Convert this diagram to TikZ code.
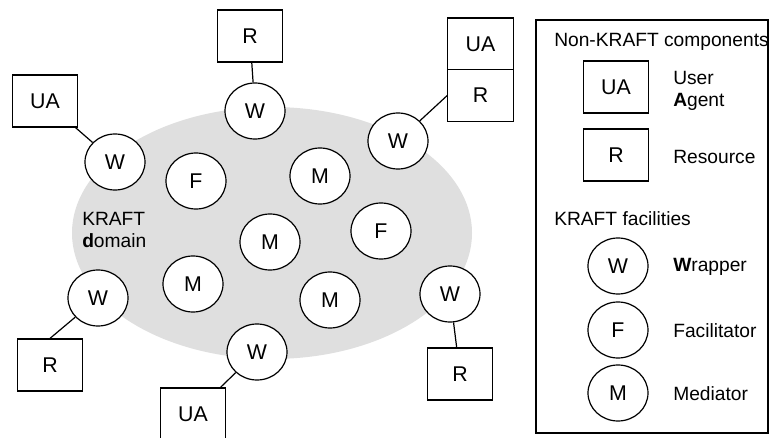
\documentclass[tikz,border=0pt]{standalone}
\usepackage{fontspec}
\setmainfont{Liberation Sans}
\usetikzlibrary{shapes.geometric}
\definecolor{kraftgray}{RGB}{223,223,223}

\begin{document}
\begin{tikzpicture}[x=0.75pt,y=-0.75pt,
    font=\fontsize{14.4}{17}\selectfont,
    fac/.style={draw,ellipse,fill=white,line width=0.9pt,
      minimum width=45pt,minimum height=42pt,inner sep=0pt,
      font=\fontsize{16}{18}\selectfont},
    comp/.style={draw,rectangle,fill=white,line width=0.9pt,
      minimum width=49pt,minimum height=39pt,inner sep=0pt,
      font=\fontsize{16}{18}\selectfont},
    txt/.style={anchor=west,align=left,inner sep=0pt},
    lnk/.style={line width=0.9pt}]
  \useasboundingbox (0,0) rectangle (769,438);
  % the domain
  \fill[kraftgray] (272,233) ellipse [x radius=150pt,y radius=94.5pt];
  \node[txt] (dom) at (82,230) {KRAFT\\\textbf{d}omain};
  \node[fac] (f1) at (196,181) {F};
  \node[fac] (f2) at (381,231) {F};
  \node[fac] (m1) at (320,176) {M};
  \node[fac] (m2) at (270,242) {M};
  \node[fac] (m3) at (193,284) {M};
  \node[fac] (m4) at (330,300) {M};
  % wrappers and what they wrap
  \node[fac] (wtop) at (255,111) {W};
  \node[comp] (rtop) at (250,36) {R};
  \node[fac] (wleft) at (115,162) {W};
  \node[comp] (ualeft) at (45,101) {UA};
  \node[fac] (wright) at (398,141) {W};
  \node[comp] (uaright) at (480.5,44) {UA};
  \node[comp] (rright) at (480.5,95.5) {R};
  \node[fac] (wll) at (98,298) {W};
  \node[comp] (rll) at (50,365) {R};
  \node[fac] (wbot) at (257,352) {W};
  \node[comp] (uabot) at (193,414) {UA};
  \node[fac] (wlr) at (450,294) {W};
  \node[comp] (rlr) at (460,374) {R};
  \draw[lnk] (wtop) -- (rtop);
  \draw[lnk] (wleft) -- (ualeft);
  \draw[lnk] (wright) -- (rright.west);
  \draw[lnk] (wll) -- (rll.north);
  \draw[lnk] (wbot) -- (uabot);
  \draw[lnk] (wlr) -- (rlr);
  % legend
  \draw[line width=0.9pt] (536,20) rectangle (768,433);
  \node[txt] (hnon) at (554,42) {Non-KRAFT components};
  \node[comp] (lua) at (616,87) {UA};
  \node[txt] (tua) at (673,91) {User\\\textbf{A}gent};
  \node[comp] (lr) at (616,155) {R};
  \node[txt] (tr) at (673,157) {Resource};
  \node[txt] (hfac) at (554,219) {KRAFT facilities};
  \foreach \n/\t/\y in {W/{\textbf{W}rapper}/266,F/Facilitator/330,M/Mediator/393}
  {
    \node[fac] (l\n) at (618,\y) {\n};
    \node[txt] (t\n) at (673,\y+1) {\t};
  }
\end{tikzpicture}
\end{document}
